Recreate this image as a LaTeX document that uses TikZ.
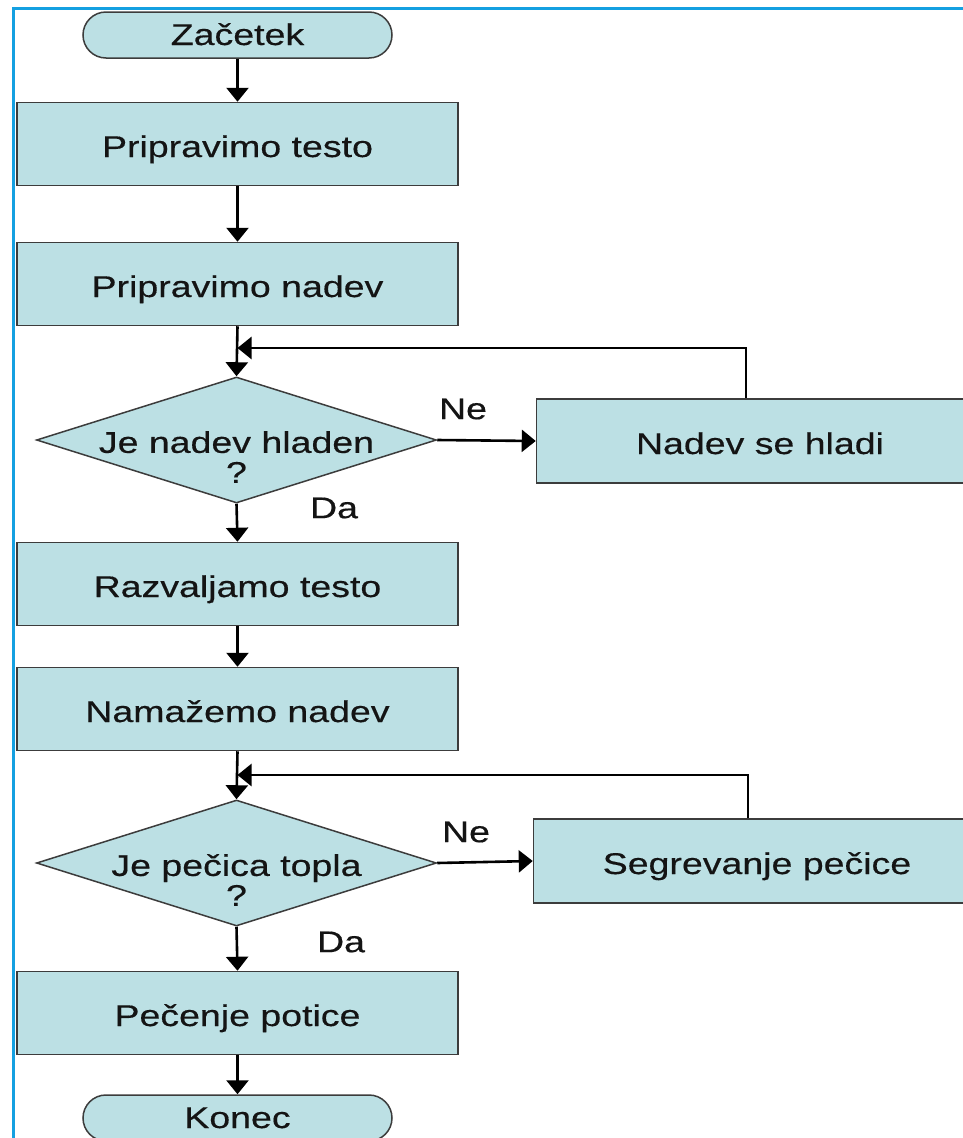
\documentclass[tikz,border=0pt]{standalone}
\usepackage{fontspec}
\setmainfont{Liberation Sans}[FakeStretch=1.25,FakeBold=0.4]
\usetikzlibrary{arrows.meta,shapes.geometric}
\definecolor{boxfill}{RGB}{188,224,228}
\definecolor{boxline}{RGB}{60,60,60}
\definecolor{frameblue}{RGB}{20,160,225}
\definecolor{txtcol}{RGB}{20,20,20}
\begin{document}
\begin{tikzpicture}[x=1pt,y=-1pt,
  txt/.style={font=\fontsize{30}{30}\selectfont, text=txtcol},
  shapebase/.style={txt, draw=boxline, fill=boxfill, line width=1.5pt, inner sep=0pt, text height=27pt, text depth=1pt},
  procbox/.style={shapebase, rectangle, minimum width=441pt, minimum height=83pt},
  sidebox/.style={shapebase, rectangle, minimum width=447pt, minimum height=84pt},
  term/.style={shapebase, rectangle, rounded corners=23pt, minimum width=309pt, minimum height=46pt, text height=24pt, text depth=4pt},
  decision/.style={draw=boxline, fill=boxfill, line width=1.5pt, diamond, inner sep=0pt, minimum width=400pt, minimum height=126pt},
  dtext/.style={txt, align=center},
  lbl/.style={txt},
  arr/.style={draw=black, line width=2.6pt, -{Triangle[width=22pt,length=14pt]}},
  frame/.style={draw=frameblue, line width=3pt}
]
\useasboundingbox (0,0) rectangle (963,1138);
\clip (0,0) rectangle (963,1138);
\fill[white] (0,0) rectangle (963,1138);
\draw[frame] (13,1140) -- (13,8) -- (965,8);

% nodes
\node[term] (start) at (237.5,35) {Začetek};
\node[procbox] (b1) at (237.5,144) {Pripravimo testo};
\node[procbox] (b2) at (237.5,284) {Pripravimo nadev};
\node[decision] (d1) at (236.5,440) {};
\node[dtext] (d1t) at (236.5,457) {Je nadev hladen\\?};
\node[sidebox] (nh) at (760,441) {Nadev se hladi};
\node[procbox] (b3) at (237.5,584) {Razvaljamo testo};
\node[procbox] (b4) at (237.5,709) {Namažemo nadev};
\node[decision] (d2) at (236.5,863) {};
\node[dtext] (d2t) at (236.5,880) {Je pečica topla\\?};
\node[sidebox] (sp) at (757,861) {Segrevanje pečice};
\node[procbox] (b5) at (237.5,1013) {Pečenje potice};
\node[term] (end) at (237.5,1118) {Konec};

\node[lbl] (ne1) at (463,409) {Ne};
\node[lbl] (da1) at (334,508) {Da};
\node[lbl] (ne2) at (466,832) {Ne};
\node[lbl] (da2) at (341,942) {Da};

\coordinate (j1) at (237.5,348);
\coordinate (j2) at (237.5,775);

% connectors
\draw[arr] (start) -- (b1);
\draw[arr] (b1) -- (b2);
\draw[arr] (b2.south) -- (d1.north);
\draw[arr] (d1.east) -- (nh.west);
\draw[arr] ([xshift=-14pt]nh.north) |- (j1);
\draw[arr] (d1.south) -- (b3.north);
\draw[arr] (b3) -- (b4);
\draw[arr] (b4.south) -- (d2.north);
\draw[arr] (d2.east) -- (sp.west);
\draw[arr] ([xshift=-9pt]sp.north) |- (j2);
\draw[arr] (d2.south) -- (b5.north);
\draw[arr] (b5) -- (end);
\end{tikzpicture}
\end{document}
